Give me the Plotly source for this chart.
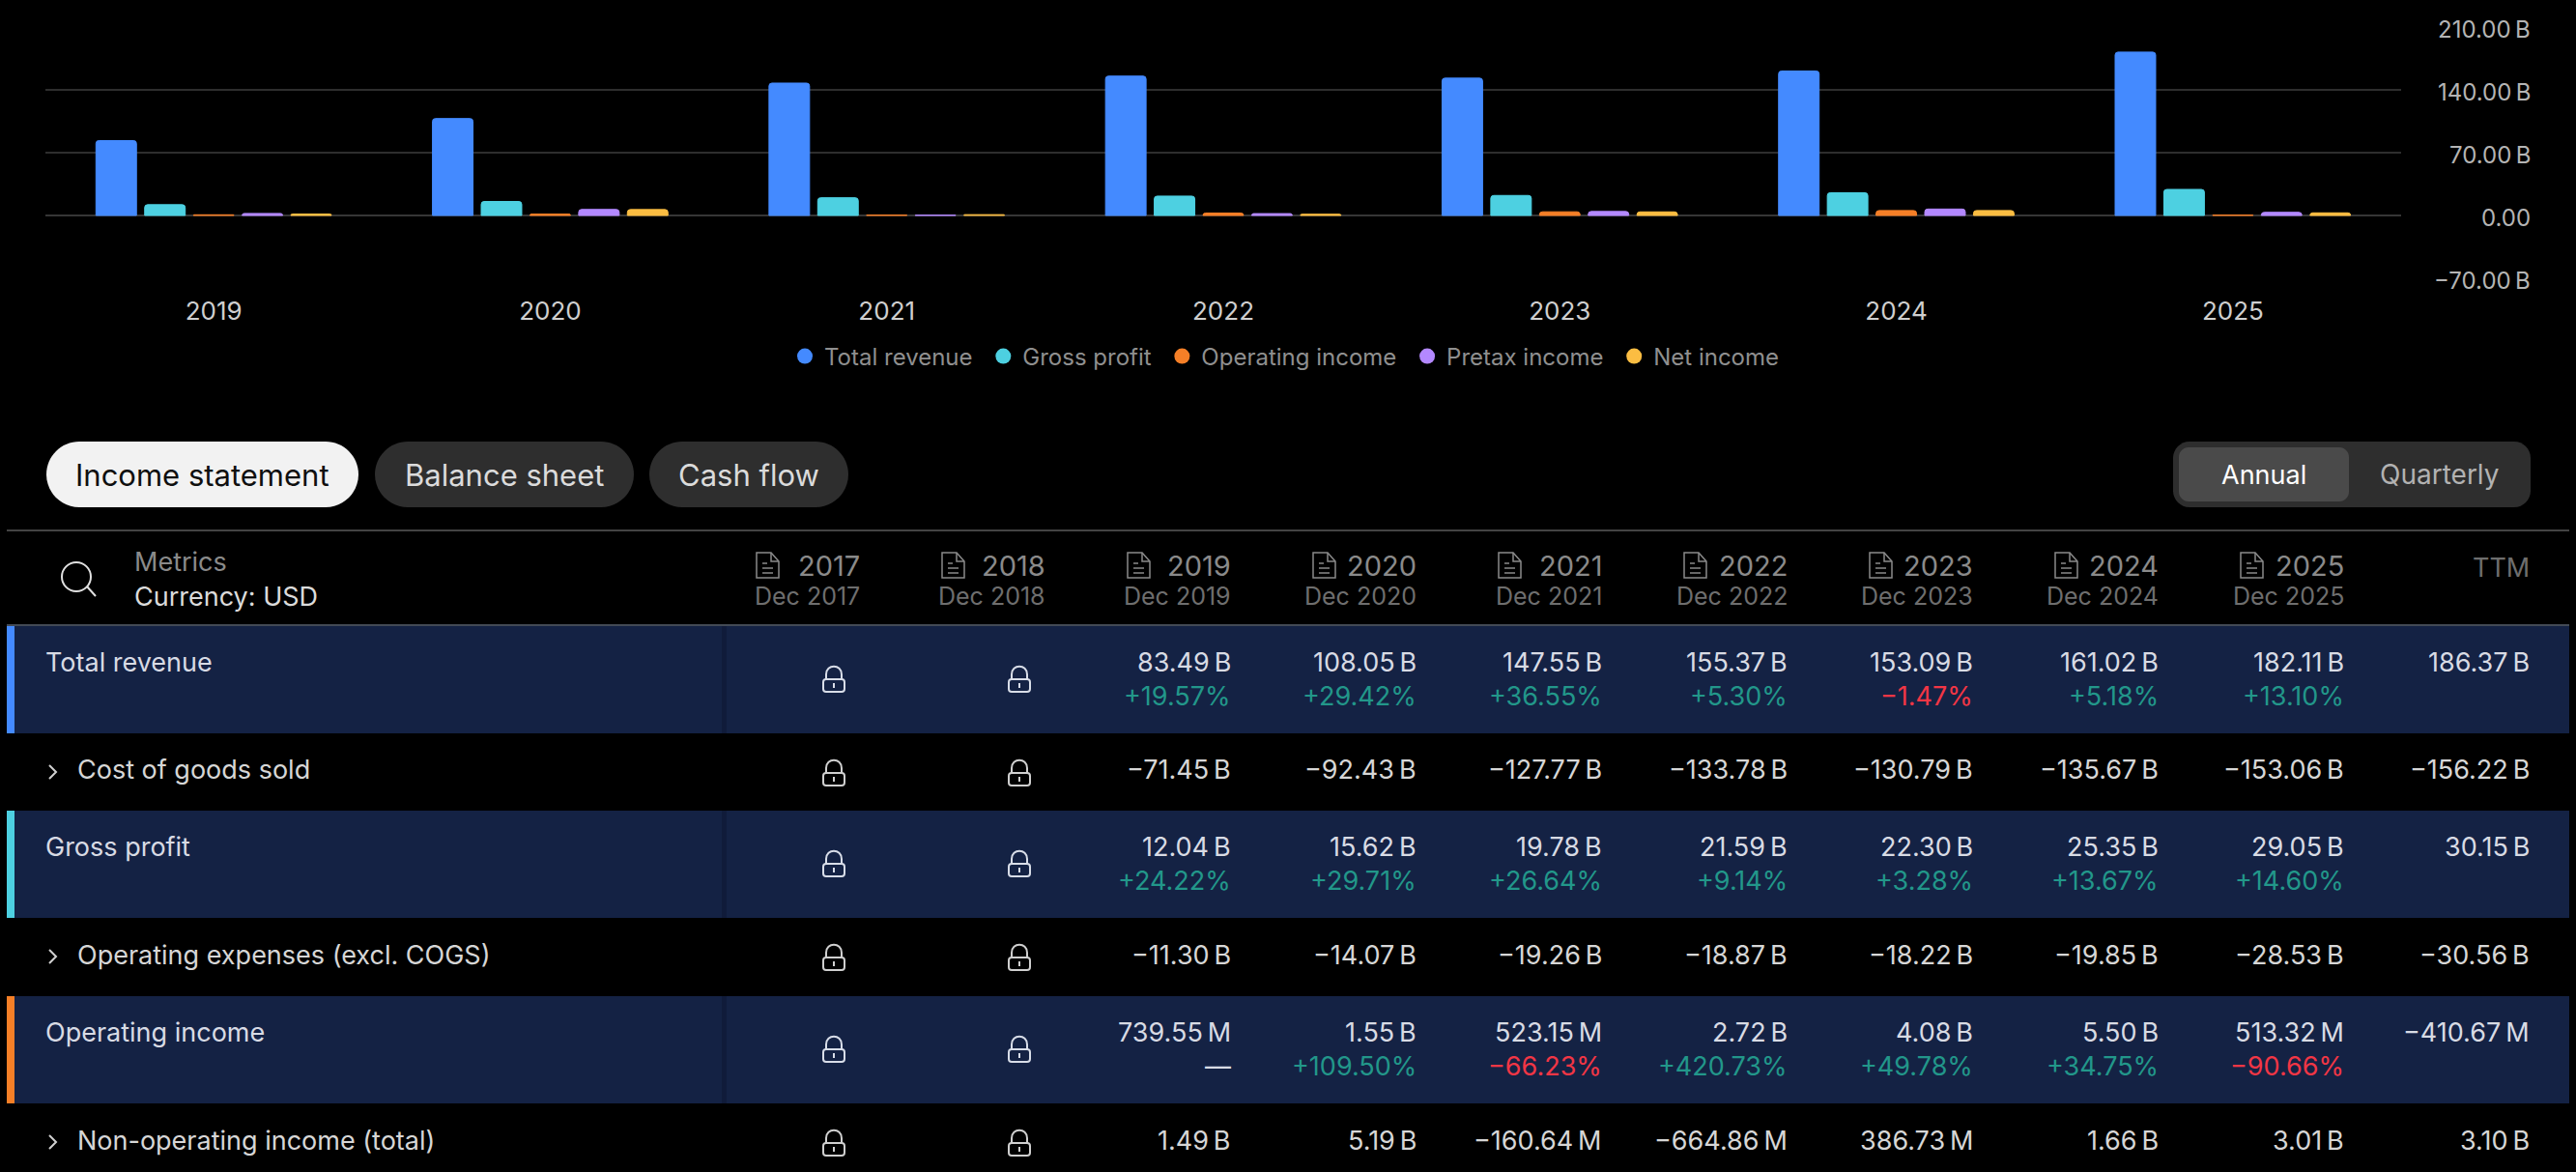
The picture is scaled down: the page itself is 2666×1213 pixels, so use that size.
import plotly.graph_objects as go

W, H = 2666, 1213
FONT = "Inter"
HS = "\u2009"

# ---------- chart data ----------
years = ["2019", "2020", "2021", "2022", "2023", "2024", "2025"]
total_revenue = [83.49, 108.05, 147.55, 155.37, 153.09, 161.02, 182.11]
gross_profit = [12.04, 15.62, 19.78, 21.59, 22.30, 25.35, 29.05]
operating_income = [0.74, 1.55, 0.52, 2.72, 4.08, 5.50, 0.51]
pretax_income = [2.23, 6.74, 0.36, 2.06, 4.47, 7.16, 3.52]
net_income = [1.6, 6.6, 0.9, 1.4, 4.0, 5.5, 2.9]
series_names = ["Total revenue", "Gross profit", "Operating income", "Pretax income", "Net income"]
series_values = [total_revenue, gross_profit, operating_income, pretax_income, net_income]
series_colors = ["#448aff", "#4dd0e1", "#f57f27", "#b388ff", "#fbbd42"]
y_ticks = [210, 140, 70, 0, -70]
y_tick_labels = ["210.00 B", "140.00 B", "70.00 B", "0.00", "\u221270.00 B"]

# ---------- table data ----------
tabs = ["Income statement", "Balance sheet", "Cash flow"]
column_years = ["2017", "2018", "2019", "2020", "2021", "2022", "2023", "2024", "2025"]
column_periods = ["Dec 2017", "Dec 2018", "Dec 2019", "Dec 2020", "Dec 2021", "Dec 2022", "Dec 2023", "Dec 2024", "Dec 2025"]
row_names = ["Total revenue", "Cost of goods sold", "Gross profit",
             "Operating expenses (excl. COGS)", "Operating income", "Non-operating income (total)"]
row_values = [
    ["83.49 B", "108.05 B", "147.55 B", "155.37 B", "153.09 B", "161.02 B", "182.11 B", "186.37 B"],
    ["−71.45 B", "−92.43 B", "−127.77 B", "−133.78 B", "−130.79 B", "−135.67 B", "−153.06 B", "−156.22 B"],
    ["12.04 B", "15.62 B", "19.78 B", "21.59 B", "22.30 B", "25.35 B", "29.05 B", "30.15 B"],
    ["−11.30 B", "−14.07 B", "−19.26 B", "−18.87 B", "−18.22 B", "−19.85 B", "−28.53 B", "−30.56 B"],
    ["739.55 M", "1.55 B", "523.15 M", "2.72 B", "4.08 B", "5.50 B", "513.32 M", "−410.67 M"],
    ["1.49 B", "5.19 B", "−160.64 M", "−664.86 M", "386.73 M", "1.66 B", "3.01 B", "3.10 B"],
]
row_growth = {
    0: ["+19.57%", "+29.42%", "+36.55%", "+5.30%", "−1.47%", "+5.18%", "+13.10%", ""],
    2: ["+24.22%", "+29.71%", "+26.64%", "+9.14%", "+3.28%", "+13.67%", "+14.60%", ""],
    4: ["—", "+109.50%", "−66.23%", "+420.73%", "+49.78%", "+34.75%", "−90.66%", ""],
}
accent_colors = {0: series_colors[0], 2: series_colors[1], 4: series_colors[2]}

# ---------- helpers ----------
def fx(x): return x / W
def fy(y): return 1 - y / H
def thin(s): return s.replace(" ", HS)

shapes, notes = [], []

def text(x, y, s, size, color, anchor="left"):
    notes.append(dict(text=s, x=fx(x), y=fy(y), xref="paper", yref="paper", xanchor=anchor,
                      yanchor="middle", showarrow=False, borderpad=0, borderwidth=0,
                      font=dict(family=FONT, size=size, color=color)))

def rect(x0, y0, x1, y1, fill):
    shapes.append(dict(type="rect", xref="paper", yref="paper", x0=fx(x0), x1=fx(x1),
                       y0=fy(y0), y1=fy(y1), fillcolor=fill, line=dict(width=0), layer="below"))

def path(points, color, width=2, fill=None):
    d = ""
    for p in points:
        cmd, vals = p[0], p[1:]
        d += cmd
        coords = []
        for i in range(0, len(vals), 2):
            coords.append(f"{fx(vals[i]):.6f},{fy(vals[i+1]):.6f}")
        d += " ".join(coords) + " "
    d = d.replace("Z ", "Z")
    shapes.append(dict(type="path", xref="paper", yref="paper", path=d,
                       line=dict(color=color, width=width), fillcolor=fill))

def rrect(x0, y0, x1, y1, r, fill=None, line=None, width=0):
    k = r * 0.45
    pts = [("M", x0 + r, y0), ("L", x1 - r, y0), ("C", x1 - k, y0, x1, y0 + k, x1, y0 + r),
           ("L", x1, y1 - r), ("C", x1, y1 - k, x1 - k, y1, x1 - r, y1),
           ("L", x0 + r, y1), ("C", x0 + k, y1, x0, y1 - k, x0, y1 - r),
           ("L", x0, y0 + r), ("C", x0, y0 + k, x0 + k, y0, x0 + r, y0), ("Z",)]
    path(pts, line or "rgba(0,0,0,0)", width, fill)

def lock(cx, cy, color):
    rrect(cx - 11, cy, cx + 11, cy + 13, 3, None, color, 2)
    path([("M", cx - 8, cy), ("L", cx - 8, cy - 5), ("C", cx - 8, cy - 16, cx + 8, cy - 16, cx + 8, cy - 5),
          ("L", cx + 8, cy)], color, 2)
    rect(cx - 1, cy + 4, cx + 1, cy + 9, color)
    shapes[-1]["layer"] = "above"

def doc(x, y, color):
    path([("M", x, y), ("L", x + 15, y), ("L", x + 23, y + 9), ("L", x + 23, y + 26), ("L", x, y + 26), ("Z",)], color, 1.5)
    path([("M", x + 15, y), ("L", x + 15, y + 9), ("L", x + 23, y + 9)], color, 1.5)
    for yy, xe in ((y + 11, x + 11), (y + 16, x + 17), (y + 21, x + 17)):
        path([("M", x + 6, yy), ("L", xe, yy)], color, 1.5)

# ---------- chart ----------
fig = go.Figure()
for name, vals, col in zip(series_names, series_values, series_colors):
    fig.add_trace(go.Bar(x=years, y=vals, name=name, marker=dict(color=col, line=dict(color=col, width=1)),
                         showlegend=False))
for name, col in zip(series_names, series_colors):
    fig.add_trace(go.Scatter(x=[None], y=[None], mode="markers", name=name + "\u00a0",
                             marker=dict(color=col, size=17, symbol="circle")))

for v, lab in zip(y_ticks, y_tick_labels):
    notes.append(dict(text=thin(lab), x=fx(2619), xref="paper", y=v, yref="y", xanchor="right", yanchor="middle",
                      yshift=-3, showarrow=False, borderpad=0, borderwidth=0,
                      font=dict(family=FONT, size=24, color="#b4b4b4")))

# ---------- tabs ----------
TAB_Y0, TAB_Y1, TAB_YC = 457, 525, 491
tab_boxes = [(48, 371), (388, 656), (672, 878)]
for i, (name, (a, b)) in enumerate(zip(tabs, tab_boxes)):
    rrect(a, TAB_Y0, b, TAB_Y1, 34, "#f2f2f2" if i == 0 else "#2e2e2e")
    text((a + b) / 2, TAB_YC, name, 31, "#0f0f0f" if i == 0 else "#dbdbdb", "center")

rrect(2249, 457, 2619, 525, 17, "#2e2e2e")
rrect(2255, 463, 2431, 519, 10, "#4a4a4a")
text(2343, TAB_YC, "Annual", 27, "#ffffff", "center")
text(2525, TAB_YC, "Quarterly", 28, "#b2b2b2", "center")

# ---------- table header ----------
rect(7, 548, 2659, 550, "#434343")
shapes.append(dict(type="circle", xref="paper", yref="paper", x0=fx(64), x1=fx(94), y0=fy(582), y1=fy(612),
                   line=dict(color="#e0e0e0", width=2)))
path([("M", 90, 607), ("L", 99, 617)], "#e0e0e0", 2)
text(139, 582, "Metrics", 27, "#8a8a8a")
text(139, 617, "Currency: USD", 27, "#dbdbdb")

RIGHT_EDGES = [890, 1082, 1274, 1466, 1658, 1850, 2042, 2234, 2426, 2618]
for r, y_, per in zip(RIGHT_EDGES, column_years, column_periods):
    text(r, 585, y_, 29, "#8a8a8a", "right")
    text(r, 617, per, 25, "#6e6e6e", "right")
    doc(r - 107, 572, "#8a8a8a")
text(RIGHT_EDGES[-1], 587, "TTM", 27, "#6e6e6e", "right")
rect(7, 646, 2659, 648, "#434a55")

# ---------- table body ----------
row_tops = [648, 760, 839, 950, 1031, 1142]
row_bottoms = [759, 838, 950, 1030, 1142, 1213]
plain_centers = {1: 797, 3: 988, 5: 1180}
for i, name in enumerate(row_names):
    top, bot = row_tops[i], row_bottoms[i]
    band = i in row_growth
    if band:
        rect(7, top, 2659, bot, "#142244")
        rect(747, top, 752, bot, "#101b3a")
        rect(7, top, 15, bot, accent_colors[i])
        text(47, top + 37, name, 27, "#d8dbe4")
        yv, lock_y = top + 37, top + 55
        col = "#d8dbe4"
    else:
        yv = plain_centers[i]
        lock_y = yv + 3
        col = "#d6d6d6"
        path([("M", 51, yv - 5), ("L", 58, yv + 2), ("L", 51, yv + 9)], "#d0d0d0", 2)
        text(80, yv, name, 27, col)
    for r in RIGHT_EDGES[:2]:
        lock(r - 27, lock_y, "#d8dde8" if band else "#cfcfcf")
    for r, v in zip(RIGHT_EDGES[2:], row_values[i]):
        text(r, yv, thin(v), 27, col, "right")
    if band:
        for r, g in zip(RIGHT_EDGES[2:], row_growth[i]):
            if g:
                c = "#d8dbe4" if g == "—" else ("#f23645" if g.startswith("−") else "#22978a")
                text(r, top + 72, g, 27, c, "right")

fig.update_layout(
    width=W, height=H, autosize=False,
    paper_bgcolor="#000000", plot_bgcolor="#000000",
    margin=dict(l=0, r=0, t=0, b=0, pad=0),
    barmode="group", bargap=0.276, bargroupgap=0.168, barcornerradius=3,
    hovermode=False, showlegend=True,
    legend=dict(orientation="h", x=0.5, xanchor="center", y=fy(369), yanchor="middle",
                font=dict(family=FONT, size=24, color="#8f8f8f"), itemsizing="trace",
                bgcolor="rgba(0,0,0,0)", traceorder="normal"),
    xaxis=dict(type="category", domain=[47 / W, 2485 / W], showgrid=False, zeroline=False, showline=False,
               ticks="outside", ticklen=11, tickcolor="rgba(0,0,0,0)",
               tickfont=dict(family=FONT, size=26, color="#cfcfcf")),
    yaxis=dict(range=[-70, 210], domain=[1 - 288 / H, 1 - 28 / H], tickmode="array", tickvals=y_ticks,
               showticklabels=False, gridcolor="#2e2e2e", gridwidth=2, zeroline=True, zerolinecolor="#363636",
               zerolinewidth=2, ticks=""),
    shapes=shapes, annotations=notes,
)
fig.write_html("out.html", config={"displayModeBar": False},
               post_script="document.body.style.margin='0';document.body.style.background='#000';")
